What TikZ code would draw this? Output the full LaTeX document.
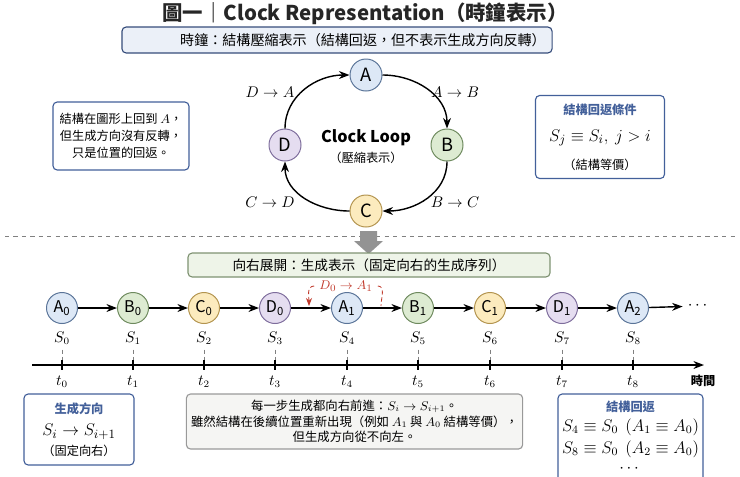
\documentclass[tikz,border=0pt]{standalone}
\usepackage{amsmath, amssymb}
\usepackage[no-math]{fontspec}
\setmainfont{Noto Sans CJK TC}
\usetikzlibrary{arrows.meta}

\definecolor{fillA}{HTML}{DDE8F6}
\definecolor{lineA}{HTML}{5A7498}
\definecolor{fillB}{HTML}{DDEBD2}
\definecolor{lineB}{HTML}{6E8A5E}
\definecolor{fillC}{HTML}{FCEBBE}
\definecolor{lineC}{HTML}{B3944F}
\definecolor{fillD}{HTML}{E5DDF0}
\definecolor{lineD}{HTML}{7E6D9C}
\definecolor{boxblue}{HTML}{43609A}
\definecolor{subfill}{HTML}{EBF0F8}
\definecolor{greenfill}{HTML}{EEF4E8}
\definecolor{greenline}{HTML}{7F9272}
\definecolor{grayfill}{HTML}{F5F5F3}
\definecolor{annored}{HTML}{C0392B}

\newcommand{\clockfont}{\fontsize{13}{13}\selectfont}
\newcommand{\seqfont}{\fontsize{11.5}{12}\selectfont}
\newcommand{\boxfont}{\fontsize{8.7}{12}\selectfont}

\begin{document}
\begin{tikzpicture}
            [x=0.025cm, y=-0.025cm, >=Stealth, semithick,
             clk/.style={shape=circle, draw=line#1, fill=fill#1, line width=0.7pt, minimum size=0.8cm, inner sep=0pt, font=\clockfont},
             seq/.style={shape=circle, draw=line#1, fill=fill#1, line width=0.7pt, minimum size=0.775cm, inner sep=0pt, font=\seqfont},
             flow/.style={->, line width=1pt},
             bluebox/.style={draw=boxblue, fill=white, line width=0.8pt, rounded corners=3pt},
             boxtitle/.style={text=boxblue, font=\boxfont\bfseries},
             lbl/.style={font=\fontsize{10.5}{12}\selectfont},
             guide/.style={densely dashed, gray, line width=0.4pt}]
            \useasboundingbox (0, 0) rectangle (740, 476);
            \clip (0, 0) rectangle (740, 476);

            \node[font=\fontsize{14.5}{16}\selectfont\bfseries, text=black!85] (title) at (365, 14) {圖一｜Clock Representation（時鐘表示）};
            \node[draw=boxblue!80!black, fill=subfill, line width=0.8pt, rounded corners=3pt, minimum width=10.75cm, minimum height=0.65cm] (sub) at (337, 40) {};
            \node[font=\fontsize{10}{12}\selectfont] (subtxt) at (363, 40) {時鐘：結構壓縮表示（結構回返，但不表示生成方向反轉）};

            \node[clk=A] (A) at (366, 75) {A};
            \node[clk=B] (B) at (447, 145) {B};
            \node[clk=C] (C) at (366, 211) {C};
            \node[clk=D] (D) at (285, 145) {D};
            \path [flow] (A) edge [out=0, in=90] (B);
            \path [flow] (B) edge [out=-90, in=0] (C);
            \path [flow] (C) edge [out=180, in=-90] (D);
            \path [flow] (D) edge [out=90, in=180] (A);
            \node[lbl] (ab) at (455, 92) {$A \to B$};
            \node[lbl] (bc) at (455, 202) {$B \to C$};
            \node[lbl] (cd) at (270, 202) {$C \to D$};
            \node[lbl] (da) at (270, 92) {$D \to A$};
            \node[font=\fontsize{11.5}{13}\selectfont\bfseries] (loop) at (366, 138) {Clock Loop};
            \node[font=\boxfont] (loopnote) at (366, 158) {（壓縮表示）};

            \node[bluebox, minimum width=3.4cm, minimum height=1.7cm, align=center, font=\boxfont] (leftnote) at (121, 136) {結構在圖形上回到 $A$，\\但生成方向沒有反轉，\\只是位置的回返。};

            \node[bluebox, minimum width=3.225cm, minimum height=2.075cm] (cond) at (600, 137) {};
            \node[boxtitle] (condtitle) at (600, 110) {結構回返條件};
            \node[font=\fontsize{12.5}{14}\selectfont] (condmath) at (600, 138) {$S_j \equiv S_i,\ j > i$};
            \node[font=\boxfont] (condnote) at (600, 165) {（結構等價）};

            \draw[dashed, gray, line width=0.6pt] (5, 236) -- (735, 236);
            \fill[gray!85] (360, 231) -- (377, 231) -- (377, 241) -- (383, 241) -- (368.5, 254) -- (354, 241) -- (360, 241) -- cycle;

            \node[draw=greenline, fill=greenfill, line width=0.8pt, rounded corners=3pt, minimum width=9.05cm, minimum height=0.6cm, font=\fontsize{9.7}{12}\selectfont] (unfold) at (369, 265) {向右展開：生成表示（固定向右的生成序列）};

            \node[seq=A] (a0) at (62, 308) {A\textsubscript{0}};
            \node[seq=B] (b0) at (133, 308) {B\textsubscript{0}};
            \node[seq=C] (c0) at (204, 308) {C\textsubscript{0}};
            \node[seq=D] (d0) at (275, 308) {D\textsubscript{0}};
            \node[seq=A] (a1) at (347, 308) {A\textsubscript{1}};
            \node[seq=B] (b1) at (418, 308) {B\textsubscript{1}};
            \node[seq=C] (c1) at (490, 308) {C\textsubscript{1}};
            \node[seq=D] (d1) at (562, 308) {D\textsubscript{1}};
            \node[seq=A] (a2) at (633, 308) {A\textsubscript{2}};
            \node[font=\seqfont] (more) at (699, 306) {$\cdots$};

            \path [flow] (a0) edge (b0) (b0) edge (c0) (c0) edge (d0) (d0) edge (a1);
            \path [flow] (a1) edge (b1) (b1) edge (c1) (c1) edge (d1) (d1) edge (a2);
            \path [flow] (a2) edge (more);

            \node[font=\fontsize{9.5}{11}\selectfont, text=annored] (wrap) at (346, 286) {$D_0 \to A_1$};
            \coordinate (wrapin) at (309, 306);
            \coordinate (wrapout) at (381, 306);
            \draw[->, densely dashed, annored, line width=0.6pt] (wrap.west) to [out=180, in=90] (wrapin);
            \draw[densely dashed, annored, line width=0.6pt] (wrap.east) to [out=0, in=90] (wrapout);

            \node[lbl] (s0) at (62, 338) {$S_0$};
            \node[lbl] (s1) at (133, 338) {$S_1$};
            \node[lbl] (s2) at (204, 338) {$S_2$};
            \node[lbl] (s3) at (275, 338) {$S_3$};
            \node[lbl] (s4) at (347, 338) {$S_4$};
            \node[lbl] (s5) at (418, 338) {$S_5$};
            \node[lbl] (s6) at (490, 338) {$S_6$};
            \node[lbl] (s7) at (562, 338) {$S_7$};
            \node[lbl] (s8) at (633, 338) {$S_8$};

            \coordinate (axL) at (32, 365);
            \coordinate (axR) at (704, 365);
            \draw[flow] (axL) -- (axR);

            \node[lbl] (t0) at (62, 382) {$t_0$};
            \node[lbl] (t1) at (133, 382) {$t_1$};
            \node[lbl] (t2) at (204, 382) {$t_2$};
            \node[lbl] (t3) at (275, 382) {$t_3$};
            \node[lbl] (t4) at (347, 382) {$t_4$};
            \node[lbl] (t5) at (418, 382) {$t_5$};
            \node[lbl] (t6) at (490, 382) {$t_6$};
            \node[lbl] (t7) at (562, 382) {$t_7$};
            \node[lbl] (t8) at (633, 382) {$t_8$};
            \node[font=\boxfont\bfseries] (time) at (703, 381) {時間};

            \draw[guide] (s0.south) -- (s0.south |- axL);
            \draw[guide] (s1.south) -- (s1.south |- axL);
            \draw[guide] (s2.south) -- (s2.south |- axL);
            \draw[guide] (s3.south) -- (s3.south |- axL);
            \draw[guide] (s4.south) -- (s4.south |- axL);
            \draw[guide] (s5.south) -- (s5.south |- axL);
            \draw[guide] (s6.south) -- (s6.south |- axL);
            \draw[guide] (s7.south) -- (s7.south |- axL);
            \draw[guide] (s8.south) -- (s8.south |- axL);
            \draw[line width=0.8pt] (62, 360) -- (62, 370) (133, 360) -- (133, 370) (204, 360) -- (204, 370);
            \draw[line width=0.8pt] (275, 360) -- (275, 370) (347, 360) -- (347, 370) (418, 360) -- (418, 370);
            \draw[line width=0.8pt] (490, 360) -- (490, 370) (562, 360) -- (562, 370) (633, 360) -- (633, 370);

            \node[bluebox, minimum width=2.75cm, minimum height=1.775cm] (dir) at (79, 429.5) {};
            \node[boxtitle] (dirtitle) at (79, 409) {生成方向};
            \node[font=\fontsize{12.5}{14}\selectfont] (dirmath) at (79, 432) {$S_i \to S_{i+1}$};
            \node[font=\boxfont] (dirnote) at (79, 451) {（固定向右）};

            \node[draw=gray!80, fill=grayfill, line width=0.8pt, rounded corners=3pt, minimum width=8.125cm, minimum height=1.375cm, align=center, font=\fontsize{8.8}{11.2}\selectfont] (step) at (354.5, 421.5) {每一步生成都向右前進：$S_i \to S_{i+1}$。\\雖然結構在後續位置重新出現（例如 $A_1$ 與 $A_0$ 結構等價），\\但生成方向從不向左。};

            \node[bluebox, minimum width=3.625cm, minimum height=2.4cm] (ret) at (630.5, 442) {};
            \node[boxtitle] (rettitle) at (630.5, 407) {結構回返};
            \node[font=\fontsize{11.5}{13}\selectfont, inner sep=1pt] (ret1) at (630.5, 427) {$S_4 \equiv S_0\ \ (A_1 \equiv A_0)$};
            \node[font=\fontsize{11.5}{13}\selectfont, inner sep=1pt] (ret2) at (630.5, 449) {$S_8 \equiv S_0\ \ (A_2 \equiv A_0)$};
            \node[font=\fontsize{11.5}{13}\selectfont, inner sep=0pt] (ret3) at (630.5, 469) {$\cdots$};
        \end{tikzpicture}
\end{document}
